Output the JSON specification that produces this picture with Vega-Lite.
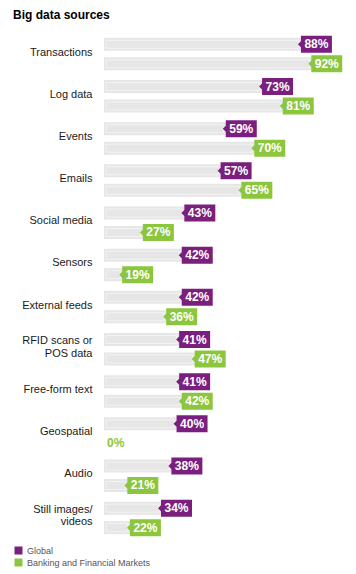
{
  "$schema": "https://vega.github.io/schema/vega-lite/v6.json",
  "width": 228,
  "height": 506,
  "autosize": {"type": "none"},
  "padding": {"left": 104, "top": 33, "right": 24, "bottom": 35},
  "background": "white",
  "config": {"view": {"stroke": null}, "font": "Liberation Sans"},
  "title": {"text": "Big data sources", "anchor": "start", "frame": "group", "dx": -91, "offset": 11, "fontSize": 12, "font": "Liberation Sans", "fontWeight": "bold", "color": "#000000"},
  "data": {"values": [
    {"cat": "Transactions", "series": "Global", "v": 0.88},
    {"cat": "Transactions", "series": "Banking and Financial Markets", "v": 0.92},
    {"cat": "Log data", "series": "Global", "v": 0.73},
    {"cat": "Log data", "series": "Banking and Financial Markets", "v": 0.81},
    {"cat": "Events", "series": "Global", "v": 0.59},
    {"cat": "Events", "series": "Banking and Financial Markets", "v": 0.70},
    {"cat": "Emails", "series": "Global", "v": 0.57},
    {"cat": "Emails", "series": "Banking and Financial Markets", "v": 0.65},
    {"cat": "Social media", "series": "Global", "v": 0.43},
    {"cat": "Social media", "series": "Banking and Financial Markets", "v": 0.27},
    {"cat": "Sensors", "series": "Global", "v": 0.42},
    {"cat": "Sensors", "series": "Banking and Financial Markets", "v": 0.19},
    {"cat": "External feeds", "series": "Global", "v": 0.42},
    {"cat": "External feeds", "series": "Banking and Financial Markets", "v": 0.36},
    {"cat": "RFID scans or|POS data", "series": "Global", "v": 0.41},
    {"cat": "RFID scans or|POS data", "series": "Banking and Financial Markets", "v": 0.47},
    {"cat": "Free-form text", "series": "Global", "v": 0.41},
    {"cat": "Free-form text", "series": "Banking and Financial Markets", "v": 0.42},
    {"cat": "Geospatial", "series": "Global", "v": 0.40},
    {"cat": "Geospatial", "series": "Banking and Financial Markets", "v": 0.0},
    {"cat": "Audio", "series": "Global", "v": 0.38},
    {"cat": "Audio", "series": "Banking and Financial Markets", "v": 0.21},
    {"cat": "Still images/|videos", "series": "Global", "v": 0.34},
    {"cat": "Still images/|videos", "series": "Banking and Financial Markets", "v": 0.22}
  ]},
  "encoding": {
    "y": {"field": "cat", "type": "nominal", "sort": null,
      "scale": {"paddingInner": 0, "paddingOuter": 0},
      "axis": {"title": null, "domain": false, "ticks": false, "labelPadding": 12, "labelFontSize": 11, "labelFont": "Liberation Sans", "labelColor": "#1a1a1a", "labelExpr": "split(datum.label, '|')", "labelLineHeight": 12.5, "labelLimit": 200,
        "labelOffset": {"condition": {"test": "indexof(datum.label, '|') >= 0", "value": -8}, "value": -1.5}}},
    "yOffset": {"field": "series", "type": "nominal", "sort": ["Global", "Banking and Financial Markets"], "scale": {"paddingInner": 0, "paddingOuter": 0.082}}
  },
  "layer": [
    {
      "transform": [{"filter": "datum.v > 0"}],
      "mark": {"type": "bar", "color": "#e6e6e6", "height": 13},
      "encoding": {
        "x": {"field": "v", "type": "quantitative", "scale": {"domain": [0.12, 1.0], "nice": false, "zero": false}, "axis": null},
        "x2": {"datum": 0.12}
      }
    },
    {
      "transform": [{"filter": "datum.v > 0"}],
      "mark": {"type": "bar", "filled": false, "stroke": "#f3f3f3", "strokeWidth": 1, "height": 8, "xOffset": -2, "x2Offset": 2},
      "encoding": {
        "x": {"field": "v", "type": "quantitative"},
        "x2": {"datum": 0.12}
      }
    },
    {
      "transform": [{"filter": "datum.v > 0"}],
      "mark": {"type": "point", "shape": "M-3,0L0,-3L0,-8.5L31,-8.5L31,8.5L0,8.5L0,3Z", "size": 4, "filled": true, "opacity": 1, "strokeWidth": 0},
      "encoding": {
        "x": {"field": "v", "type": "quantitative"},
        "color": {"field": "series", "type": "nominal",
          "scale": {"domain": ["Global", "Banking and Financial Markets"], "range": ["#7b1f7e", "#8cc63f"]},
          "legend": {"title": null, "orient": "none", "legendX": -90, "legendY": 513, "symbolType": "square", "symbolSize": 64, "symbolStrokeWidth": 0, "symbolOpacity": 1, "labelFontSize": 9, "labelFont": "Liberation Sans", "labelColor": "#555555", "rowPadding": 2, "labelOffset": 4}}
      }
    },
    {
      "transform": [{"filter": "datum.v > 0"}],
      "mark": {"type": "text", "color": "#ffffff", "fontWeight": "bold", "fontSize": 12, "font": "Liberation Sans", "align": "center", "baseline": "middle", "dx": 15.5},
      "encoding": {
        "x": {"field": "v", "type": "quantitative"},
        "text": {"field": "v", "type": "quantitative", "format": ".0%"}
      }
    },
    {
      "transform": [{"filter": "datum.v == 0"}],
      "mark": {"type": "text", "color": "#8cc63f", "fontWeight": "bold", "fontSize": 12, "font": "Liberation Sans", "align": "left", "baseline": "middle", "dx": 3},
      "encoding": {
        "x": {"datum": 0.12, "type": "quantitative"},
        "text": {"field": "v", "type": "quantitative", "format": ".0%"}
      }
    }
  ]
}
